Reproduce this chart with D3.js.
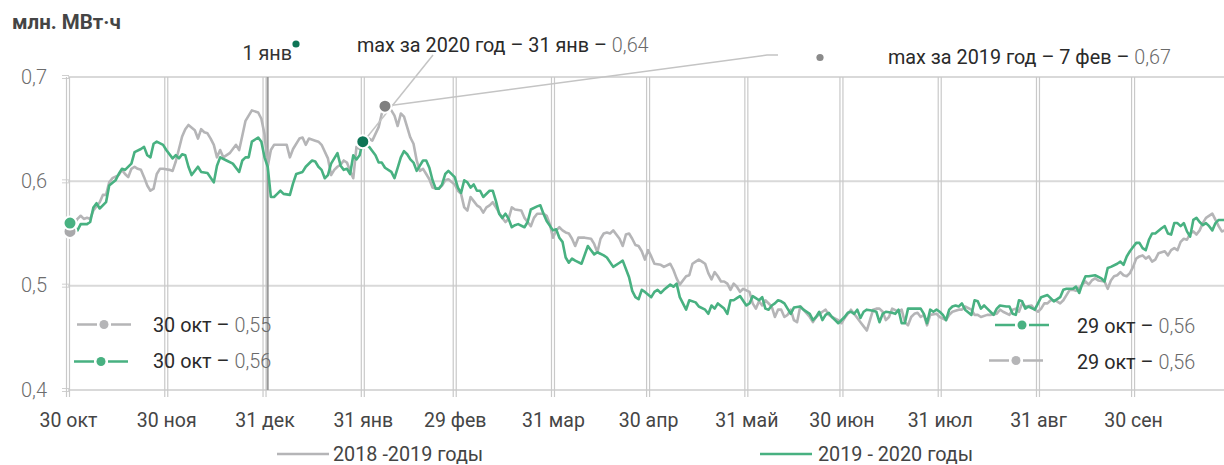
<!DOCTYPE html>
<html><head><meta charset="utf-8">
<script src="https://cdn.jsdelivr.net/npm/d3@7"></script>
<style>
body{margin:0;background:#fff;}
svg{display:block;font-family:Roboto,"Noto Sans",sans-serif;}
</style>
</head><body>
<svg id="chart" width="1224" height="465"></svg>
<script>
// ---- data ----
const tickDays = [0,31,62,93,122,153,183,214,244,275,306,336];
const tickLabels = ["30 окт","30 ноя","31 дек","31 янв","29 фев","31 мар","30 апр","31 май","30 июн","31 июл","31 авг","30 сен"];
const yTicks = [0.4,0.5,0.6,0.7];
const seriesNames = ["2018 -2019 годы","2019 - 2020 годы"];
// day offset from 30 Oct, value (млн. МВт·ч)
const series1920 = [[0,0.560],[3,0.553],[4,0.559],[6,0.559],[7,0.561],[8,0.575],[9,0.579],[10,0.574],[12,0.580],[13,0.596],[15,0.601],[16,0.607],[17,0.612],[18,0.611],[20,0.617],[21,0.628],[23,0.631],[24,0.633],[25,0.625],[26,0.623],[27,0.636],[28,0.638],[30,0.635],[31,0.630],[33,0.622],[34,0.625],[35,0.622],[36,0.626],[37,0.625],[38,0.614],[39,0.606],[41,0.614],[42,0.609],[44,0.608],[46,0.599],[47,0.615],[48,0.623],[50,0.620],[52,0.617],[54,0.609],[55,0.620],[56,0.623],[57,0.623],[58,0.638],[60,0.642],[61,0.638],[62,0.623],[63,0.614],[64,0.585],[65,0.585],[66,0.588],[67,0.591],[68,0.588],[70,0.587],[71,0.598],[72,0.607],[74,0.609],[75,0.614],[77,0.620],[78,0.619],[79,0.614],[80,0.611],[81,0.603],[82,0.606],[83,0.617],[85,0.627],[86,0.615],[87,0.611],[88,0.612],[89,0.607],
[90,0.625],[91,0.621],[92,0.625],[93,0.638],[95,0.633],[96,0.629],[97,0.625],[98,0.618],[99,0.618],[100,0.613],[102,0.609],[103,0.603],[104,0.613],[105,0.623],[106,0.629],[107,0.626],[108,0.621],[109,0.618],[110,0.610],[112,0.620],[113,0.620],[114,0.613],[115,0.601],[116,0.593],[117,0.593],[118,0.597],[119,0.607],[120,0.610],[122,0.604],[123,0.594],[124,0.589],[125,0.601],[126,0.599],[127,0.594],[128,0.597],[129,0.591],[130,0.591],[131,0.585],[133,0.591],[134,0.591],[135,0.581],[136,0.569],[137,0.565],[138,0.569],[139,0.564],[140,0.556],[141,0.558],[142,0.559],[144,0.556],[145,0.561],[146,0.573],[148,0.576],[149,0.577],[150,0.569],[151,0.562],[153,0.553],[154,0.554],[155,0.546],[156,0.542],[157,0.527],[158,0.522],[159,0.526],[160,0.524],[162,0.521],[164,0.538],[165,0.534],[166,0.530],[167,0.532],[169,0.529],[170,0.527],[172,0.518],[174,0.522],[175,0.524],[177,0.508],[178,0.495],
[179,0.489],[180,0.487],[181,0.496],[182,0.494],[184,0.489],[185,0.494],[186,0.496],[187,0.493],[188,0.496],[190,0.501],[191,0.499],[192,0.502],[193,0.489],[195,0.477],[196,0.486],[198,0.484],[199,0.480],[201,0.477],[202,0.473],[203,0.481],[204,0.478],[205,0.483],[207,0.478],[208,0.473],[209,0.486],[210,0.486],[211,0.488],[212,0.490],[214,0.481],[215,0.483],[216,0.490],[217,0.488],[218,0.486],[219,0.489],[220,0.478],[221,0.477],[222,0.481],[223,0.483],[224,0.486],[225,0.485],[226,0.483],[227,0.478],[228,0.473],[229,0.479],[231,0.480],[232,0.477],[234,0.473],[235,0.467],[236,0.470],[237,0.475],[238,0.467],[239,0.472],[240,0.474],[241,0.470],[242,0.467],[243,0.464],[245,0.470],[246,0.474],[247,0.475],[248,0.473],[249,0.477],[250,0.469],[251,0.475],[252,0.477],[254,0.476],[255,0.475],[256,0.465],[257,0.473],[258,0.475],[260,0.474],[261,0.473],[262,0.477],[263,0.464],[264,0.464],[265,0.478],[266,0.478],[268,0.478],
[269,0.478],[270,0.473],[271,0.464],[272,0.477],[273,0.475],[274,0.477],[275,0.475],[276,0.472],[277,0.467],[278,0.477],[279,0.480],[280,0.481],[281,0.480],[282,0.483],[283,0.477],[285,0.472],[286,0.486],[287,0.485],[288,0.478],[289,0.481],[290,0.478],[291,0.475],[292,0.472],[293,0.478],[294,0.481],[296,0.480],[297,0.480],[298,0.473],[299,0.472],[300,0.486],[301,0.485],[302,0.478],[303,0.480],[305,0.477],[306,0.483],[307,0.489],[309,0.491],[310,0.488],[311,0.485],[313,0.489],[314,0.496],[315,0.497],[317,0.497],[318,0.499],[319,0.493],[320,0.502],[321,0.509],[322,0.509],[324,0.510],[326,0.507],[327,0.504],[328,0.517],[329,0.518],[331,0.521],[332,0.523],[333,0.520],[334,0.528],[335,0.533],[336,0.537],[337,0.541],[338,0.541],[339,0.536],[340,0.534],[341,0.544],[342,0.550],[343,0.550],[345,0.555],[346,0.557],[347,0.550],[348,0.549],[349,0.560],[350,0.560],[351,0.557],[352,0.560],[353,0.552],[354,0.547],[355,0.563],[356,0.565],[357,0.561],[358,0.558],[359,0.560],[360,0.557],[361,0.553],[362,0.560],[363,0.563],[365,0.563]];
const series1819 = [[0,0.552],[3,0.564],[4,0.567],[5,0.564],[6,0.565],[7,0.564],[8,0.572],[10,0.580],[11,0.587],[12,0.587],[13,0.599],[14,0.603],[16,0.606],[17,0.611],[18,0.607],[19,0.604],[20,0.612],[21,0.614],[22,0.612],[23,0.611],[24,0.604],[25,0.596],[26,0.591],[27,0.593],[28,0.607],[29,0.612],[30,0.612],[32,0.611],[33,0.610],[34,0.619],[35,0.631],[36,0.643],[37,0.650],[38,0.654],[40,0.649],[41,0.641],[42,0.650],[43,0.647],[44,0.646],[45,0.641],[46,0.635],[47,0.623],[48,0.630],[49,0.623],[51,0.627],[52,0.631],[53,0.635],[54,0.630],[55,0.644],[56,0.658],[57,0.663],[58,0.668],[60,0.666],[61,0.660],[62,0.645],[63,0.614],[64,0.630],[65,0.635],[67,0.635],[69,0.635],[70,0.623],[71,0.631],[73,0.641],[74,0.642],[75,0.635],[76,0.641],[78,0.639],[79,0.638],[80,0.635],[82,0.622],[83,0.606],[84,0.611],[85,0.614],[86,0.616],[87,0.620],[88,0.618],[89,0.610],[90,0.603],[91,0.633],[92,0.631],[94,0.639],[95,0.641],[96,0.639],[98,0.652],[99,0.665],[100,0.672],[102,0.668],[103,0.663],[104,0.653],[105,0.665],[106,0.662],[107,0.652],[108,0.642],[109,0.636],[110,0.620],[111,0.610],[112,0.612],[113,0.607],[114,0.602],[115,0.594],[116,0.593],[117,0.593],[118,0.596],[119,0.601],[120,0.602],[122,0.597],[123,0.591],[124,0.588],[125,0.575],[126,0.572],[127,0.585],[128,0.581],[129,0.577],[130,0.575],[131,0.570],[132,0.575],[133,0.577],[134,0.580],[135,0.575],[136,0.570],[137,0.565],[138,0.561],[139,0.564],[140,0.575],[141,0.573],[143,0.572],[144,0.565],[145,0.561],[146,0.557],[147,0.565],[148,0.569],[150,0.569],[151,0.567],[152,0.559],[153,0.546],[154,0.553],[155,0.556],[156,0.553],[157,0.551],[158,0.550],[159,0.545],[160,0.538],[161,0.546],[163,0.546],[165,0.545],[166,0.540],[167,0.532],[168,0.545],[169,0.550],[170,0.551],[171,0.550],[172,0.553],[174,0.545],[175,0.538],[176,0.549],[177,0.550],[178,0.545],[179,0.539],[180,0.538],[181,0.533],[182,0.525],[183,0.534],[184,0.528],[185,0.521],[187,0.520],[188,0.518],[190,0.521],[191,0.515],[192,0.507],[193,0.501],[195,0.509],[196,0.510],[197,0.521],[198,0.523],[199,0.525],[200,0.523],[201,0.521],[202,0.512],[203,0.506],[204,0.513],[205,0.509],[206,0.504],[207,0.504],[208,0.502],[209,0.496],[210,0.502],[211,0.499],[212,0.494],[213,0.497],[215,0.494],[216,0.483],[217,0.478],[218,0.485],[219,0.481],[220,0.486],[222,0.480],[223,0.470],[224,0.477],[225,0.477],[226,0.470],[227,0.472],[228,0.477],[229,0.467],[230,0.465],[231,0.480],[232,0.477],[234,0.470],[235,0.465],[236,0.470],[238,0.475],[239,0.477],[240,0.472],[241,0.470],[243,0.467],[244,0.464],[245,0.469],[247,0.477],[248,0.473],[249,0.469],[250,0.465],[251,0.461],[252,0.457],[253,0.467],[254,0.477],[255,0.478],[256,0.478],[257,0.475],[258,0.467],[259,0.470],[260,0.478],[262,0.475],[263,0.477],[264,0.465],[265,0.462],[266,0.470],[267,0.473],[268,0.474],[269,0.470],[270,0.472],[271,0.462],[272,0.472],[274,0.473],[275,0.470],[277,0.467],[278,0.472],[279,0.475],[281,0.477],[282,0.477],[283,0.480],[285,0.477],[286,0.472],[287,0.472],[288,0.470],[290,0.472],[291,0.472],[293,0.473],[294,0.477],[295,0.475],[297,0.472],[298,0.477],[299,0.478],[300,0.475],[301,0.483],[302,0.480],[304,0.481],[305,0.477],[306,0.475],[307,0.478],[308,0.483],[309,0.483],[310,0.486],[311,0.486],[312,0.485],[313,0.483],[314,0.486],[315,0.491],[316,0.496],[317,0.496],[318,0.495],[319,0.498],[320,0.501],[321,0.504],[322,0.501],[323,0.505],[324,0.507],[325,0.505],[327,0.504],[328,0.497],[329,0.505],[330,0.509],[331,0.510],[332,0.513],[333,0.510],[334,0.509],[335,0.512],[336,0.518],[337,0.526],[338,0.528],[339,0.529],[340,0.526],[341,0.528],[342,0.523],[343,0.525],[344,0.531],[346,0.533],[347,0.529],[348,0.534],[349,0.536],[350,0.534],[351,0.542],[352,0.545],[353,0.544],[354,0.550],[355,0.552],[356,0.549],[357,0.553],[358,0.560],[359,0.565],[361,0.569],[362,0.563],[363,0.557],[364,0.552],[365,0.553]];
const newYearDay = 63;
const max2020 = [93, 0.638];
const max2019 = [100, 0.672];
const startLegend = [["30 окт – ","0,55"],["30 окт – ","0,56"]];
const endLegend = [["29 окт – ","0,56"],["29 окт – ","0,56"]];
const annotations = [["max за 2020 год – 31 янв – ","0,64"],["max за 2019 год – 7 фев – ","0,67"]];

// ---- chart ----
const GREEN = "#48b181", GRAY = "#b5b5b7", DKGREEN = "#0e7556", DKGRAY = "#808080";
const svg = d3.select("#chart");
const x = d3.scaleLinear().domain([0,365]).range([68,1225]);
const y = d3.scaleLinear().domain([0.4,0.7]).range([390,77]);

// horizontal gridlines
svg.append("g").selectAll("line").data(yTicks).join("line")
  .attr("x1",68).attr("x2",1224).attr("y1",d=>y(d)).attr("y2",d=>y(d))
  .attr("stroke","#d9d9d9").attr("stroke-width",2);
// y tick marks (double)
svg.append("g").selectAll("path").data(yTicks).join("path")
  .attr("d",d=>`M62,${y(d)-1.5}H69M62,${y(d)+1.5}H69`)
  .attr("stroke","#cfcfcf").attr("stroke-width",1);
// vertical double gridlines
svg.append("g").selectAll("path").data(tickDays).join("path")
  .attr("d",d=>`M${x(d)-1.5},77V397M${x(d)+1.5},77V397`)
  .attr("stroke","#c9c9c9").attr("stroke-width",1.2);
// new year line
svg.append("line").attr("x1",x(newYearDay)).attr("x2",x(newYearDay))
  .attr("y1",77).attr("y2",390).attr("stroke","#9a9a9a").attr("stroke-width",2);

// axes (labels)
const xAxis = svg.append("g").attr("transform","translate(0,390)")
  .call(d3.axisBottom(x).tickValues(tickDays).tickFormat((d,i)=>tickLabels[i]).tickSize(0));
xAxis.select(".domain").remove();
xAxis.selectAll("text").attr("y",37).attr("dy",0)
  .style("font-family","Roboto").style("font-size","19.5px").attr("fill","#454545");

const yAxis = svg.append("g").attr("transform","translate(68,0)")
  .call(d3.axisLeft(y).tickValues(yTicks).tickFormat(d=>d3.format(".1f")(d).replace(".",",")).tickSize(0));
yAxis.select(".domain").remove();
yAxis.selectAll("text").attr("x",-21).attr("dy","0.3em")
  .style("font-family","Roboto").style("font-size","20px").style("font-weight",300).attr("fill","#6d6d6d");

// title
svg.append("text").attr("x",12).attr("y",29).text("млн. МВт·ч")
  .style("font-size","20.5px").style("font-weight",700).attr("fill","#454545");

// lines
const line = d3.line().x(d=>x(d[0])).y(d=>y(d[1]));
svg.append("path").datum(series1819).attr("d",line).attr("fill","none")
  .attr("stroke",GRAY).attr("stroke-width",2.6).attr("stroke-linejoin","round");
svg.append("path").datum(series1920).attr("d",line).attr("fill","none")
  .attr("stroke",GREEN).attr("stroke-width",2.6).attr("stroke-linejoin","round");

// start dots
svg.append("circle").attr("cx",x(series1819[0][0])+2).attr("cy",y(series1819[0][1])).attr("r",6.5)
  .attr("fill","#a9a9ab").attr("stroke","#fff").attr("stroke-width",2);
svg.append("circle").attr("cx",x(series1920[0][0])+2).attr("cy",y(series1920[0][1])).attr("r",6.5)
  .attr("fill",GREEN).attr("stroke","#fff").attr("stroke-width",2);

// leader lines
svg.append("path").attr("d",`M${x(max2020[0])+3},${y(max2020[1])-3}L433,55`)
  .attr("fill","none").attr("stroke","#c4c4c4").attr("stroke-width",1.5);
svg.append("path").attr("d",`M${x(max2019[0])},${y(max2019[1])}L767,55H778`)
  .attr("fill","none").attr("stroke","#c4c4c4").attr("stroke-width",1.5);

// max dots
svg.append("circle").attr("cx",x(max2020[0])).attr("cy",y(max2020[1])).attr("r",6.5)
  .attr("fill",DKGREEN).attr("stroke","#fff").attr("stroke-width",2);
svg.append("circle").attr("cx",x(max2019[0])).attr("cy",y(max2019[1])).attr("r",6.5)
  .attr("fill",DKGRAY).attr("stroke","#fff").attr("stroke-width",2);

// annotation texts
function richText(g, xPos, yPos, parts, size){
  const t = g.append("text").attr("x",xPos).attr("y",yPos).style("font-size",size+"px");
  t.append("tspan").text(parts[0]).attr("fill","#2a2a2a");
  t.append("tspan").text(parts[1]).attr("fill","#6a6a6a").style("font-weight",300);
  return t;
}
richText(svg,357,52,annotations[0],19.8);
richText(svg,888,64,annotations[1],19.8);
svg.append("circle").attr("cx",820).attr("cy",57.5).attr("r",3.6).attr("fill","#8a8a8a");

// 1 янв marker
svg.append("text").attr("x",292).attr("y",60).attr("text-anchor","end").text("1 янв")
  .style("font-size","19.8px").attr("fill","#333");
svg.append("circle").attr("cx",296).attr("cy",44).attr("r",3.6).attr("fill",DKGREEN);

// legend markers "—●—"
function marker(cx, cy, color, halfLen){
  svg.append("path").attr("d",`M${cx-halfLen},${cy}H${cx-7}M${cx+7},${cy}H${cx+halfLen}`)
    .attr("stroke",color).attr("stroke-width",2.6);
  svg.append("circle").attr("cx",cx).attr("cy",cy).attr("r",4.5).attr("fill",color);
}
marker(104,324.5,GRAY,27); richText(svg,153,332,startLegend[0],19.8);
marker(101,361.5,GREEN,27); richText(svg,153,368,startLegend[1],19.8);
marker(1022,325,GREEN,27); richText(svg,1077,333,endLegend[0],19.8);
marker(1016,360.5,GRAY,27); richText(svg,1077,369,endLegend[1],19.8);

// bottom legend
const bl = [[277,GRAY,333],[760,GREEN,818]];
bl.forEach((b,i)=>{
  svg.append("line").attr("x1",b[0]).attr("x2",b[0]+52).attr("y1",454).attr("y2",454)
    .attr("stroke",b[1]).attr("stroke-width",2.6);
  svg.append("text").attr("x",b[2]).attr("y",461).text(seriesNames[i])
    .style("font-size","19.8px").attr("fill","#444");
});
</script>
</body></html>
